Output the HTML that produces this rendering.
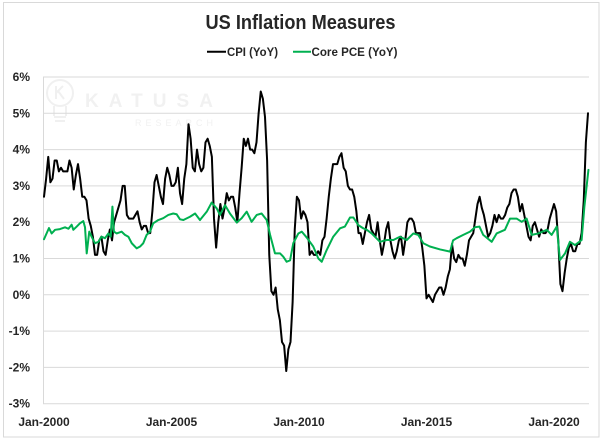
<!DOCTYPE html>
<html>
<head>
<meta charset="utf-8">
<style>
  html, body { margin: 0; padding: 0; background: #ffffff; }
  body { width: 604px; height: 444px; overflow: hidden; }
  svg { display: block; }
  text { font-family: "Liberation Sans", Arial, sans-serif; fill: #262626; }
</style>
</head>
<body>
<svg width="604" height="444" viewBox="0 0 604 444" xmlns="http://www.w3.org/2000/svg">
  <rect x="0" y="0" width="604" height="444" fill="#ffffff"/>
  <!-- outer chart border -->
  <rect x="3.5" y="2.5" width="595.5" height="434.5" fill="#ffffff" stroke="#d9d9d9" stroke-width="1"/>

  <!-- title -->
  <text x="205.5" y="29" font-size="20" font-weight="bold" textLength="190" lengthAdjust="spacingAndGlyphs">US Inflation Measures</text>

  <!-- legend -->
  <line x1="207" y1="51.7" x2="226" y2="51.7" stroke="#000000" stroke-width="2"/>
  <text x="227" y="56" font-size="11.5" font-weight="bold" textLength="51" lengthAdjust="spacingAndGlyphs">CPI (YoY)</text>
  <line x1="293" y1="51.7" x2="311" y2="51.7" stroke="#00b050" stroke-width="2"/>
  <text x="311.5" y="56" font-size="11.5" font-weight="bold" textLength="86" lengthAdjust="spacingAndGlyphs">Core PCE (YoY)</text>

  <!-- watermark -->
  <g opacity="0.9">
    <g fill="none" stroke="#efefef" stroke-width="2">
      <circle cx="60" cy="93" r="13"/>
      <line x1="54" y1="106" x2="54" y2="116"/>
      <line x1="66" y1="106" x2="66" y2="116"/>
      <line x1="54" y1="117" x2="66" y2="117"/>
      <line x1="55" y1="121" x2="65" y2="121"/>
      <path d="M56 86 L56 99 M56 93 L63 86 M58 91 L64 99"/>
    </g>
    <text x="85" y="107" font-size="19" font-weight="bold" style="fill:#f0f0f0" textLength="128" lengthAdjust="spacing">KATUSA</text>
    <text x="135" y="126" font-size="9" style="fill:#f0f0f0" textLength="78" lengthAdjust="spacing">RESEARCH</text>
  </g>

  <!-- gridlines -->
  <g stroke="#d9d9d9" stroke-width="1">
    <line x1="43" y1="77" x2="589" y2="77"/>
    <line x1="43" y1="113.3" x2="589" y2="113.3"/>
    <line x1="43" y1="149.6" x2="589" y2="149.6"/>
    <line x1="43" y1="185.9" x2="589" y2="185.9"/>
    <line x1="43" y1="222.2" x2="589" y2="222.2"/>
    <line x1="43" y1="258.5" x2="589" y2="258.5"/>
    <line x1="43" y1="294.8" x2="589" y2="294.8"/>
    <line x1="43" y1="331.1" x2="589" y2="331.1"/>
    <line x1="43" y1="367.4" x2="589" y2="367.4"/>
    <line x1="43" y1="403.7" x2="589" y2="403.7"/>
    <line x1="43.5" y1="77" x2="43.5" y2="403.7"/>
  </g>

  <!-- y labels -->
  <g font-size="12" font-weight="bold" text-anchor="end">
    <text x="30" y="81">6%</text>
    <text x="30" y="117.3">5%</text>
    <text x="30" y="153.6">4%</text>
    <text x="30" y="189.9">3%</text>
    <text x="30" y="226.2">2%</text>
    <text x="30" y="262.5">1%</text>
    <text x="30" y="298.8">0%</text>
    <text x="30" y="335.1">-1%</text>
    <text x="30" y="371.4">-2%</text>
    <text x="30" y="407.7">-3%</text>
  </g>

  <!-- x labels -->
  <g font-size="12" font-weight="bold" text-anchor="middle">
    <text x="44" y="426">Jan-2000</text>
    <text x="171.5" y="426">Jan-2005</text>
    <text x="299" y="426">Jan-2010</text>
    <text x="426.5" y="426">Jan-2015</text>
    <text x="554" y="426">Jan-2020</text>
  </g>

  <!-- series -->
  <g transform="matrix(2.125 0 0 -36.3 44 294.8)">
    <polyline fill="none" stroke="#000000" stroke-width="2" vector-effect="non-scaling-stroke" stroke-linejoin="round" stroke-linecap="round"
      points="0,2.7 1,3.2 2,3.8 3,3.1 4,3.2 5,3.7 6,3.7 7,3.4 8,3.5 9,3.4 10,3.4 11,3.4
12,3.7 13,3.5 14,2.9 15,3.3 16,3.6 17,3.2 18,2.7 19,2.7 20,2.6 21,2.1 22,1.9 23,1.6
24,1.1 25,1.1 26,1.5 27,1.6 28,1.2 29,1.1 30,1.5 31,1.8 32,1.5 33,2.0 34,2.2 35,2.4
36,2.6 37,3.0 38,3.0 39,2.2 40,2.1 41,2.1 42,2.1 43,2.2 44,2.3 45,2.0 46,1.8 47,1.9
48,1.9 49,1.7 50,1.7 51,2.3 52,3.1 53,3.3 54,3.0 55,2.7 56,2.5 57,3.2 58,3.5 59,3.3
60,3.0 61,3.0 62,3.1 63,3.5 64,2.8 65,2.5 66,3.2 67,3.6 68,4.7 69,4.3 70,3.5 71,3.4
72,4.0 73,3.6 74,3.4 75,3.5 76,4.2 77,4.3 78,4.1 79,3.8 80,2.1 81,1.3 82,2.0 83,2.5
84,2.1 85,2.4 86,2.8 87,2.6 88,2.7 89,2.7 90,2.4 91,2.0 92,2.8 93,3.5 94,4.3 95,4.1
96,4.3 97,4.0 98,4.0 99,3.9 100,4.2 101,5.0 102,5.6 103,5.4 104,4.9 105,3.7 106,1.1 107,0.1
108,0.0 109,0.2 110,-0.4 111,-0.7 112,-1.3 113,-1.4 114,-2.1 115,-1.5 116,-1.3 117,-0.2 118,1.8 119,2.7
120,2.6 121,2.1 122,2.3 123,2.2 124,2.0 125,1.1 126,1.2 127,1.1 128,1.1 129,1.2 130,1.1 131,1.5
132,1.6 133,2.1 134,2.7 135,3.2 136,3.6 137,3.6 138,3.6 139,3.8 140,3.9 141,3.5 142,3.4 143,3.0
144,2.9 145,2.9 146,2.7 147,2.3 148,1.7 149,1.7 150,1.4 151,1.7 152,2.0 153,2.2 154,1.8 155,1.7
156,1.6 157,2.0 158,1.5 159,1.1 160,1.4 161,1.8 162,2.0 163,1.5 164,1.2 165,1.0 166,1.2 167,1.5
168,1.6 169,1.1 170,1.5 171,2.0 172,2.1 173,2.1 174,2.0 175,1.7 176,1.7 177,1.7 178,1.3 179,0.8
180,-0.1 181,0.0 182,-0.1 183,-0.2 184,0.0 185,0.1 186,0.2 187,0.2 188,0.0 189,0.2 190,0.5 191,0.7
192,1.4 193,1.0 194,0.9 195,1.1 196,1.0 197,1.0 198,0.8 199,1.1 200,1.5 201,1.6 202,1.7 203,2.1
204,2.5 205,2.7 206,2.4 207,2.2 208,1.9 209,1.6 210,1.7 211,1.9 212,2.2 213,2.0 214,2.2 215,2.1
216,2.1 217,2.2 218,2.4 219,2.5 220,2.8 221,2.9 222,2.9 223,2.7 224,2.3 225,2.5 226,2.2 227,1.9
228,1.6 229,1.5 230,1.9 231,2.0 232,1.8 233,1.6 234,1.8 235,1.7 236,1.7 237,1.8 238,2.1 239,2.3
240,2.5 241,2.3 242,1.5 243,0.3 244,0.1 245,0.6 246,1.0 247,1.3 248,1.4 249,1.2 250,1.2 251,1.4
252,1.4 253,1.7 254,2.6 255,4.2 256,5.0"/>
    <polyline fill="none" stroke="#00b050" stroke-width="2" vector-effect="non-scaling-stroke" stroke-linejoin="round" stroke-linecap="round"
      points="0,1.53 2.35,1.84 3.6,1.69 5.2,1.79 7.5,1.81 9.9,1.86 11.5,1.82 13,1.93 13.8,1.79 15.4,1.88 16.9,1.97 18.5,2.03 19.3,1.86 20.1,1.14 21.3,1.74 22.4,1.6 24,1.42 25.6,1.46 27.1,1.6 28.7,1.56 30.3,1.69 31.4,1.6 32.2,2.43 32.9,1.74 34.2,1.69 36.5,1.74 38.1,1.65 39.7,1.6 41.3,1.42 43.6,1.28 45.2,1.33 46.7,1.42 48.3,1.65 49.9,1.74 51.4,1.97 53.8,2.06 56.1,2.11 58.5,2.2 60.8,2.24 62.4,2.22 64,2.08 65.6,2.06 68.7,2.15 71.1,2.24 73.4,2.06 76.6,2.29 78.9,2.54 81.3,2.38 82.8,2.2 85.2,2.47 87.5,2.24 90.7,1.99 93,2.11 95.4,2.29 97.7,2.01 100.1,2.2 102.4,2.24 104.8,2.06 106.4,1.65 108.7,1.14 111.1,1.14 112.6,1.05 114.2,0.91 115.8,0.95 117.3,1.42 119.7,1.69 121.3,1.74 123.6,1.58 126.7,1.33 129.1,1.0 130.7,0.91 133,1.23 136.1,1.6 139.3,1.83 141.6,1.88 144,2.13 145.6,2.13 147.9,1.92 150.3,1.83 151.9,1.79 154.2,1.69 158.1,1.46 161.3,1.51 164.4,1.51 167.5,1.6 170.7,1.51 173.8,1.69 176.1,1.65 178.5,1.42 181.6,1.33 186.4,1.25 191.1,1.19 192.5,1.5 194.2,1.56 197.3,1.65 200.5,1.74 202.8,1.86 204.9,1.88 206.7,1.65 210.7,1.46 213,1.69 216.9,1.79 219.3,2.1 222.4,2.1 224.8,2.01 227.1,2.1 229.5,1.65 232.6,1.69 236.6,1.79 238.9,1.65 241.3,1.88 242.8,0.96 245.2,1.14 247.5,1.46 249.9,1.37 253,1.51 254.3,2.43 256.2,3.44"/>
  </g>
</svg>
</body>
</html>
